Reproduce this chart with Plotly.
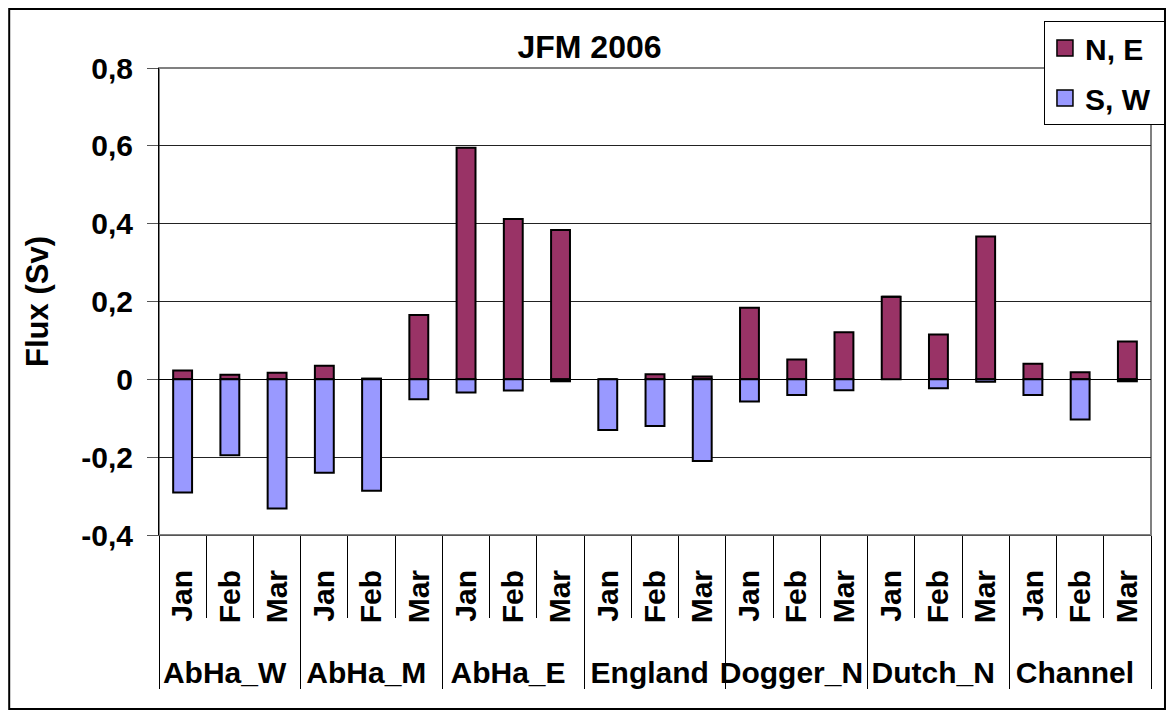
import plotly.graph_objects as go

groups = ["AbHa_W", "AbHa_M", "AbHa_E", "England", "Dogger_N", "Dutch_N", "Channel"]
months = ["Jan", "Feb", "Mar"]
north_east = [0.023, 0.012, 0.017,
              0.035, 0.002, 0.165,
              0.595, 0.412, 0.384,
              0.000, 0.013, 0.007,
              0.184, 0.051, 0.121,
              0.212, 0.115, 0.367,
              0.040, 0.018, 0.097]
south_west = [-0.291, -0.195, -0.332,
              -0.240, -0.286, -0.051,
              -0.034, -0.029, -0.005,
              -0.130, -0.120, -0.210,
              -0.057, -0.040, -0.028,
              0.000, -0.023, -0.006,
              -0.040, -0.103, -0.005]
y_ticks = [-0.4, -0.2, 0, 0.2, 0.4, 0.6, 0.8]
y_tick_text = ["-0,4", "-0,2", "0", "0,2", "0,4", "0,6", "0,8"]
series_names = ["N, E", "S, W"]
series_colors = ["#993366", "#9999FF"]

# month labels padded with non-breaking spaces so the group row sits lower
pad = "\u00a0\u00a0\u00a0"
x_multi = [[g for g in groups for m in months], [pad + m for g in groups for m in months]]
n_cat = len(x_multi[0])

FAM = "Liberation Sans, Arial, sans-serif"


def bold(size):
    return dict(family=FAM, color="black", size=size, weight="bold")


fig = go.Figure()
for name, vals, col in zip(series_names, [north_east, south_west], series_colors):
    fig.add_trace(go.Bar(x=x_multi, y=vals, name=name, showlegend=False,
                         marker=dict(color=col, line=dict(color="black", width=2))))
# legend entries with larger square swatches
for i, (name, col) in enumerate(zip(series_names, series_colors)):
    fig.add_trace(go.Scatter(x=[[x_multi[0][0]], [x_multi[1][0]]], y=[None],
                             name=name + "\u00a0",
                             mode="markers", legendgroup=str(i), hoverinfo="skip",
                             marker=dict(symbol="square", size=16, color=col,
                                         line=dict(color="black", width=1.5))))

W, H = 1168, 705
fig.update_layout(
    width=W, height=H,
    margin=dict(l=151, r=24, t=60, b=178),
    paper_bgcolor="white", plot_bgcolor="white",
    barmode="relative", bargap=0.6,
    font=bold(30),
    title=dict(text="JFM 2006", x=581.5 / W, xref="container", xanchor="center",
               y=1 - 39 / H, yref="container", yanchor="middle", font=bold(32)),
    legend=dict(x=0.8912, xanchor="left", y=1.1006, yanchor="top",
                bordercolor="black", borderwidth=1, bgcolor="white",
                font=bold(30), tracegroupgap=8, traceorder="grouped",
                itemsizing="trace"),
    showlegend=True,
)

fig.update_yaxes(
    range=[-0.4, 0.8], tickvals=y_ticks, ticktext=y_tick_text,
    ticks="outside", ticklen=11, tickcolor="#555",
    ticklabelstandoff=8,
    showline=True, linecolor="black", linewidth=1,
    showgrid=True, gridcolor="#222", gridwidth=1,
    zeroline=True, zerolinecolor="black", zerolinewidth=1,
    tickfont=bold(30),
    title=dict(text="Flux (Sv)", standoff=23, font=bold(31)),
)

fig.update_xaxes(
    type="multicategory", tickangle=-90, range=[-0.5, n_cat - 0.5],
    ticks="outside", tickson="boundaries", ticklen=82, tickcolor="black", tickwidth=1,
    showdividers=True, dividercolor="black", dividerwidth=1,
    ticklabelstandoff=22,
    showline=True, linecolor="#555", linewidth=1,
    tickfont=bold(30),
)

# plot-area border and outer chart border
fig.add_shape(type="rect", xref="paper", yref="paper", x0=0, x1=1, y0=0, y1=1,
              line=dict(color="#808080", width=2), layer="below")
fig.add_shape(type="rect", xref="paper", yref="paper",
              x0=-0.151, x1=1.0141, y0=-0.3726, y1=1.1263,
              line=dict(color="black", width=2), layer="below")

fig.write_html("out.html")
